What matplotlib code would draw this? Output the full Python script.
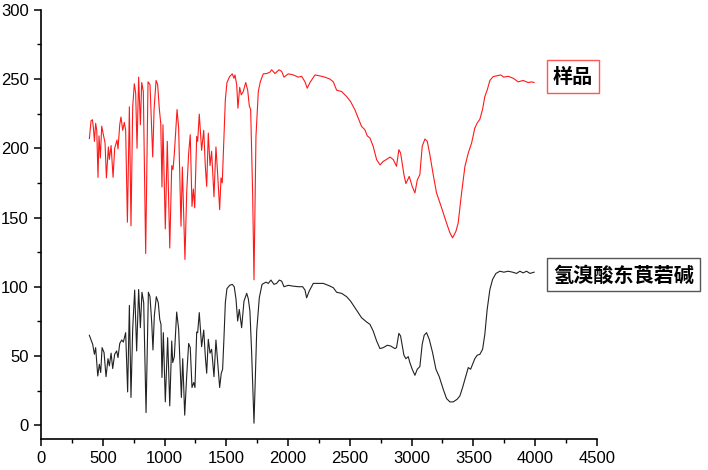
import numpy as np
import matplotlib
matplotlib.use("Agg")
import matplotlib.pyplot as plt
from matplotlib.ticker import MultipleLocator

# sample spectrum (red, upper trace)
sample_x = [391, 405, 416, 424, 432, 442, 451, 461, 469, 480, 491, 504, 518, 529, 545, 553,
            567, 583, 596, 615, 623, 637, 647, 661, 674, 685, 699, 715, 728, 742, 755, 766,
            777, 790, 804, 815, 828, 847, 866, 882, 893, 904, 915, 931, 944, 958, 969, 979,
            987, 1006, 1022, 1042, 1058, 1068, 1079, 1101, 1114, 1133, 1144, 1165, 1179, 1195,
            1208, 1222, 1233, 1244, 1260, 1268, 1281, 1300, 1317, 1330, 1341, 1354, 1368, 1381,
            1400, 1416, 1430, 1446, 1457, 1467, 1481, 1492, 1505, 1527, 1548, 1562, 1570, 1584,
            1594, 1608, 1621, 1637, 1657, 1673, 1686, 1697, 1713, 1724, 1740, 1759, 1775, 1799,
            1827, 1853, 1867, 1894, 1926, 1948, 1967, 2002, 2042, 2083, 2110, 2137, 2155, 2177,
            2218, 2258, 2298, 2339, 2366, 2393, 2434, 2474, 2506, 2541, 2568, 2595, 2622, 2641,
            2663, 2689, 2717, 2744, 2771, 2798, 2825, 2852, 2878, 2897, 2911, 2938, 2954, 2981,
            3005, 3027, 3046, 3067, 3086, 3108, 3127, 3148, 3175, 3202, 3243, 3283, 3310, 3332,
            3359, 3377, 3405, 3432, 3459, 3486, 3512, 3531, 3553, 3575, 3593, 3612, 3634, 3661,
            3688, 3721, 3747, 3782, 3823, 3863, 3903, 3944, 3971, 3992]
sample_y = [207, 220, 220.6, 214.6, 205, 218, 213, 179, 209, 193, 216, 210, 204, 178.6, 201, 192,
            202, 179, 200, 206, 199.5, 217, 222.6, 213, 218.7, 213, 146.6, 230, 144, 230, 246.6, 240,
            200, 251.4, 217, 247.5, 241, 124, 248, 246, 220.6, 193.7, 228, 249, 246, 228, 218, 172,
            217, 141.8, 205, 128, 187.5, 184.6, 196, 228, 214.6, 143.7, 186.5, 119.7, 167.8, 196.6,
            209.8, 158, 170.6, 157, 208.6, 205, 224.7, 198.5, 213, 187, 172.5, 211, 187.5, 197.8,
            165, 201, 181, 155.7, 178.6, 175, 209, 235, 247.5, 251.8, 253.8, 250.6, 253, 245.8,
            229, 244, 238.6, 241, 247.5, 242, 230.7, 228, 167.8, 105, 208.6, 241, 248, 253.8,
            254, 255, 256.7, 254, 256.7, 255.6, 251.4, 253.8, 253, 251.4, 252, 248, 243.4, 247.5,
            253, 252.3, 251.4, 250, 248, 242, 241, 237.4, 233.8, 227.8, 221.8, 215.8, 213.4, 209,
            207.4, 201.4, 191.8, 188, 190.6, 192, 193.7, 191.8, 187, 199, 196.6, 181, 174.5, 179.7,
            172.5, 167.8, 177, 181, 201.4, 206.7, 205, 195.4, 181, 167.8, 157, 146, 139, 135.3,
            140, 146, 167.8, 187, 196.6, 203.8, 214.6, 218.2, 221, 228.3, 237.4, 242, 249, 251.8,
            252.3, 253, 251.4, 252, 250.6, 248, 249, 247.5, 248, 247.5]

# reference standard spectrum (black, lower trace)
ref_x = [391, 405, 418, 432, 442, 459, 472, 483, 494, 510, 526, 542, 553, 567, 580, 596, 612,
         623, 637, 653, 666, 685, 701, 715, 728, 742, 758, 774, 790, 804, 817, 831, 850, 869,
         882, 896, 906, 917, 933, 949, 961, 971, 979, 990, 1006, 1025, 1042, 1058, 1066, 1079,
         1098, 1114, 1136, 1147, 1163, 1179, 1195, 1208, 1222, 1236, 1246, 1260, 1268, 1281,
         1300, 1317, 1330, 1341, 1354, 1368, 1381, 1400, 1416, 1432, 1446, 1459, 1470, 1481,
         1492, 1505, 1527, 1548, 1564, 1578, 1592, 1605, 1624, 1643, 1665, 1678, 1691, 1705,
         1724, 1746, 1767, 1789, 1821, 1840, 1861, 1886, 1907, 1929, 1948, 1967, 2002, 2042,
         2083, 2118, 2137, 2150, 2171, 2204, 2244, 2285, 2325, 2366, 2393, 2434, 2474, 2506,
         2541, 2568, 2595, 2636, 2663, 2689, 2717, 2744, 2771, 2803, 2830, 2865, 2878, 2897,
         2911, 2938, 2954, 2973, 2986, 3005, 3027, 3046, 3067, 3086, 3102, 3121, 3143, 3170,
         3197, 3224, 3256, 3283, 3310, 3337, 3369, 3391, 3413, 3440, 3459, 3478, 3512, 3531,
         3553, 3575, 3593, 3612, 3634, 3656, 3683, 3715, 3747, 3782, 3818, 3850, 3877, 3903,
         3931, 3958, 3992]
ref_y = [64.9, 61.5, 58.4, 51.2, 56, 35.5, 44, 38, 56, 52.4, 35, 48, 42.8, 52, 40.9, 51.2, 53.6,
         48.8, 59, 61.5, 60, 66.8, 24, 86.5, 20, 69.7, 97.6, 53.6, 98, 70.4, 96, 88.5, 9.1, 96,
         92.8, 74, 54.3, 78.8, 92.8, 88.5, 76.4, 72.8, 34.4, 66.8, 16.8, 63.2, 13.9, 60.8, 45.2, 49.5,
         81.7, 69.2, 20, 48, 7.2, 35.5, 59, 56, 27.2, 30.8, 27.2, 67.3, 66.8, 81.3,
         56.7, 68.7, 49.5, 37.5, 62, 52, 54.8, 35, 61.5, 42.8, 27.2, 37.5, 40.4, 63.2,
         88.5, 98.6, 101, 101.7, 100, 91.3, 75.2, 83.6, 70.4, 89.6, 95.2, 91.3, 82.4, 52.4,
         1.4, 68, 92, 101.7, 103.3, 102.4, 104.8, 101.7, 102.4, 104.8, 104, 100, 101, 100.4,
         100, 100, 97.6, 92, 96.8, 102.4, 102.4, 102.4, 101, 99.3, 96, 95.2, 92.8, 89.6,
         84.9, 81.3, 77.6, 74.5, 72.8, 68, 60.8, 55.3, 56, 57.7, 57.2, 55.3, 56, 66.3,
         64.4, 50.5, 48, 49.5, 45.2, 40.4, 36, 40.4, 42.3, 58.4, 64.9, 66.8, 62, 52.4,
         40.4, 35, 26, 19.2, 16.8, 16.8, 18.7, 21.1, 27.2, 35.5, 41.6, 40.4, 48, 50.5,
         51.2, 54.8, 65.6, 83.6, 98, 105.3, 109.6, 111.2, 110.5, 111.2, 110.5, 109.6, 111.2, 110,
         111.2, 109.6, 110.5]

sample_label = "样品"
ref_label = "氢溴酸东莨菪碱"

x_ticks = [0, 500, 1000, 1500, 2000, 2500, 3000, 3500, 4000, 4500]
y_ticks = [0, 50, 100, 150, 200, 250, 300]


def main():
    plt.rcParams["font.family"] = ["Liberation Sans", "DejaVu Sans"]

    fig = plt.figure(figsize=(7.08, 4.70), dpi=100)
    ax = fig.add_axes([0.058, 0.066, 0.785, 0.913])

    ax.plot(sample_x, sample_y, color="#ff1a1a", linewidth=0.8)
    ax.plot(ref_x, ref_y, color="#222222", linewidth=0.8)

    ax.set_xlim(0, 4500)
    ax.set_ylim(-10, 300)
    ax.set_xticks(x_ticks)
    ax.set_yticks(y_ticks)
    ax.xaxis.set_minor_locator(MultipleLocator(250))
    ax.yaxis.set_minor_locator(MultipleLocator(25))

    for side in ("top", "right"):
        ax.spines[side].set_visible(False)
    for side in ("left", "bottom"):
        ax.spines[side].set_linewidth(1.2)
    ax.tick_params(which="major", direction="out", length=5, width=1.1, labelsize=12, pad=4)
    ax.tick_params(which="minor", direction="out", length=3, width=1.0)

    cjk = ["Noto Sans CJK SC", "DejaVu Sans"]
    ax.text(4144, 252, sample_label, family=cjk, fontsize=14.5, fontweight="bold",
            ha="left", va="center", clip_on=False,
            bbox=dict(boxstyle="square,pad=0.3", fc="white", ec="#ff5555", lw=1.0))
    ax.text(4144, 108.5, ref_label, family=cjk, fontsize=14.5, fontweight="bold",
            ha="left", va="center", clip_on=False,
            bbox=dict(boxstyle="square,pad=0.3", fc="white", ec="#555555", lw=1.0))

    fig.savefig("out.png", dpi=100)
    plt.close(fig)


if __name__ == "__main__":
    main()
